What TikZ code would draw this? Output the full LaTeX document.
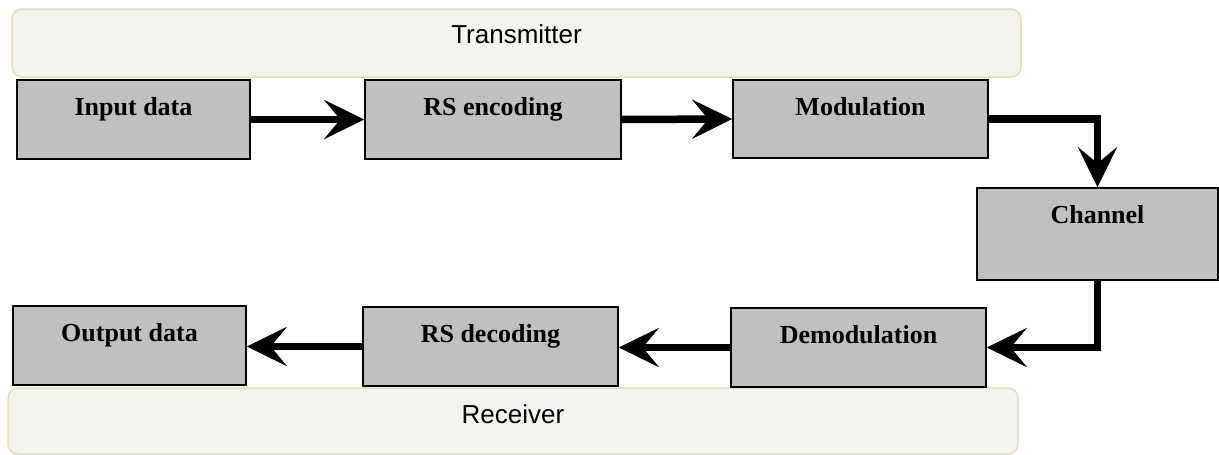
\documentclass[tikz,border=0pt]{standalone}
\usepackage{fontspec}
\setmainfont{Liberation Serif}
\newfontfamily\arialfont{Liberation Sans}
\usetikzlibrary{arrows.meta}
\definecolor{boxgray}{HTML}{C0C0C0}
\definecolor{bannerfill}{HTML}{F4F3EE}
\definecolor{bannerdraw}{HTML}{E2DDC5}
\begin{document}
\begin{tikzpicture}[x=1pt,y=-1pt,
 blockbox/.style={draw=black, line width=1.5pt, fill=boxgray, inner sep=0pt},
 banner/.style={draw=bannerdraw, line width=1.5pt, fill=bannerfill, rounded corners=10pt},
 lbl/.style={font=\fontsize{26}{30}\selectfont\bfseries, anchor=base, inner sep=0pt},
 bannerlbl/.style={font=\arialfont\fontsize{26}{30}\selectfont, anchor=base, inner sep=0pt},
 flow/.style={line width=7.5pt, -{Stealth[length=40pt,width=39pt,inset=16pt]}}
]
\useasboundingbox (0,0) rectangle (1219,455);
% banners
\draw[banner] (12,9) rectangle (1021,77);
\node[bannerlbl] (tx) at (516.5,43) {Transmitter};
\draw[banner] (8,388) rectangle (1018,454);
\node[bannerlbl] (rx) at (513,423) {Receiver};
% boxes
\node[blockbox, minimum width=233pt, minimum height=79pt] (inp) at (133.5,119.5) {};
\node[blockbox, minimum width=256pt, minimum height=79pt] (enc) at (493,119.5) {};
\node[blockbox, minimum width=255pt, minimum height=78pt] (mod) at (860.5,119) {};
\node[blockbox, minimum width=241pt, minimum height=92pt] (chan) at (1097.5,234) {};
\node[blockbox, minimum width=255pt, minimum height=79pt] (demod) at (858.5,347.5) {};
\node[blockbox, minimum width=255pt, minimum height=79pt] (dec) at (490.5,346.5) {};
\node[blockbox, minimum width=233pt, minimum height=79pt] (out) at (129.5,345.5) {};
% labels
\node[lbl] (inpT) at (133.5,115.5) {Input data};
\node[lbl] (encT) at (493,115.5) {RS encoding};
\node[lbl] (modT) at (860.5,115.5) {Modulation};
\node[lbl] (chanT) at (1097.5,223.5) {Channel};
\node[lbl] (demodT) at (858.5,343.5) {Demodulation};
\node[lbl] (decT) at (490.5,342.5) {RS decoding};
\node[lbl] (outT) at (129.5,341.5) {Output data};
% connectors
\draw[flow] (inp.east) -- (enc.west);
\draw[flow] (enc.east) -- (mod.west);
\draw[flow] (mod.east) -| (chan.north);
\draw[flow] (chan.south) |- (demod.east);
\draw[flow] (demod.west) -- (demod.west -| dec.east);
\draw[flow] (dec.west) -- (dec.west -| out.east);
\end{tikzpicture}
\end{document}
